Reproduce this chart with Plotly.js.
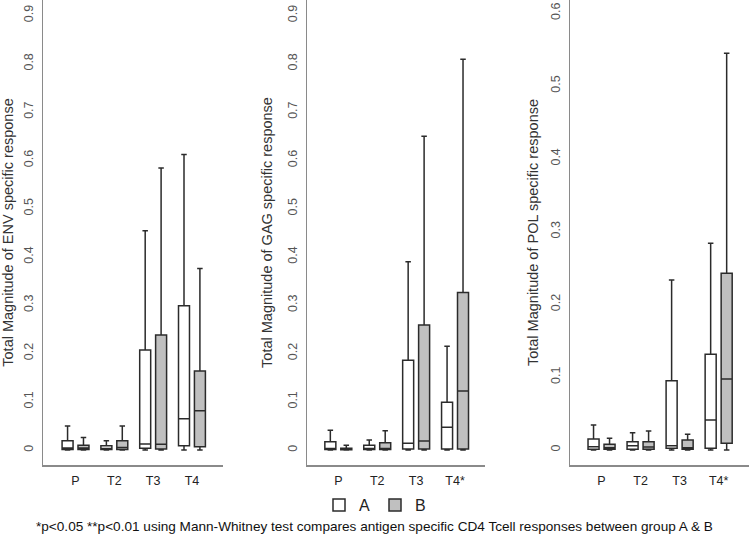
<!DOCTYPE html>
<html>
<head>
<meta charset="utf-8">
<script src="https://cdn.plot.ly/plotly-3.0.1.min.js"></script>
<style>html,body{margin:0;padding:0;background:#fff;}#chart{width:750px;height:536px;}</style>
</head>
<body>
<div id="chart"></div>
<script>
// Categories / tick labels
var catsENV = ['P', 'T2', 'T3', 'T4'];
var catsGAG = ['P', 'T2', 'T3', 'T4*'];
var catsPOL = ['P', 'T2', 'T3', 'T4*'];

// ENV – group A
var envA_low = [0, 0, 0, 0];
var envA_q1  = [0.001, 0.001, 0.0035, 0.009];
var envA_med = [0.004, 0.002, 0.0124, 0.065];
var envA_q3  = [0.019, 0.009, 0.207, 0.299];
var envA_up  = [0.050, 0.019, 0.454, 0.612];
// ENV – group B
var envB_low = [0, 0, 0, 0];
var envB_q1  = [0.001, 0.001, 0.002, 0.007];
var envB_med = [0.004, 0.005, 0.012, 0.0814];
var envB_q3  = [0.010, 0.019, 0.238, 0.1635];
var envB_up  = [0.026, 0.050, 0.584, 0.376];

// GAG – group A
var gagA_low = [0, 0, 0, 0];
var gagA_q1  = [0.001, 0.001, 0.002, 0.002];
var gagA_med = [0.003, 0.003, 0.0138, 0.047];
var gagA_q3  = [0.017, 0.010, 0.186, 0.0987];
var gagA_up  = [0.041, 0.0207, 0.390, 0.215];
// GAG – group B
var gagB_low = [0, 0, 0, 0];
var gagB_q1  = [0.0005, 0.001, 0.002, 0.002];
var gagB_med = [0.002, 0.003, 0.0186, 0.122];
var gagB_q3  = [0.0035, 0.015, 0.259, 0.3264];
var gagB_up  = [0.010, 0.040, 0.650, 0.8095];

// POL – group A
var polA_low = [0, 0, 0, 0];
var polA_q1  = [0.001, 0.001, 0.0023, 0.0023];
var polA_med = [0.0046, 0.006, 0.006, 0.0412];
var polA_q3  = [0.0151, 0.0114, 0.0952, 0.1314];
var polA_up  = [0.0343, 0.0238, 0.2335, 0.284];
// POL – group B
var polB_low = [0, 0, 0, 0];
var polB_q1  = [0.001, 0.001, 0.001, 0.0092];
var polB_med = [0.003, 0.004, 0.003, 0.0975];
var polB_q3  = [0.0078, 0.0114, 0.0137, 0.2427];
var polB_up  = [0.016, 0.026, 0.0215, 0.545];

var groupNames = ['A', 'B'];
var fillA = '#ffffff';
var fillB = '#c0c0c0';
var boxLine = '#2b2b2b';

function box(name, cats, low, q1, med, q3, up, fill, xa, ya, showLeg) {
  return {
    type: 'box', name: name, legendgroup: name, offsetgroup: name, showlegend: showLeg,
    x: cats, lowerfence: low, q1: q1, median: med, q3: q3, upperfence: up,
    fillcolor: fill, line: {color: boxLine, width: 1.5}, whiskerwidth: 0.5,
    xaxis: xa, yaxis: ya, hoverinfo: 'skip'
  };
}

var data = [
  box(groupNames[0], catsENV, envA_low, envA_q1, envA_med, envA_q3, envA_up, fillA, 'x', 'y', true),
  box(groupNames[1], catsENV, envB_low, envB_q1, envB_med, envB_q3, envB_up, fillB, 'x', 'y', true),
  box(groupNames[0], catsGAG, gagA_low, gagA_q1, gagA_med, gagA_q3, gagA_up, fillA, 'x2', 'y2', false),
  box(groupNames[1], catsGAG, gagB_low, gagB_q1, gagB_med, gagB_q3, gagB_up, fillB, 'x2', 'y2', false),
  box(groupNames[0], catsPOL, polA_low, polA_q1, polA_med, polA_q3, polA_up, fillA, 'x3', 'y3', false),
  box(groupNames[1], catsPOL, polB_low, polB_q1, polB_med, polB_q3, polB_up, fillB, 'x3', 'y3', false)
];

var fontFam = '"Liberation Sans", Arial, sans-serif';
function xax(domain, range, anchor) {
  return {
    domain: domain, range: range, anchor: anchor, type: 'category',
    showline: true, linecolor: '#8a8a8a', linewidth: 1.5, ticks: '', showgrid: false, zeroline: false,
    ticklabelstandoff: 3,
    tickfont: {family: fontFam, size: 12.5, color: '#222'}, fixedrange: true
  };
}
function yax(range, anchor, title, standoff) {
  return {
    range: range, anchor: anchor, domain: [0, 1], dtick: 0.1, tick0: 0,
    showline: true, linecolor: '#8a8a8a', linewidth: 1.5, ticks: '', showgrid: false, zeroline: false,
    tickangle: -90, ticklabelstandoff: 4,
    tickfont: {family: fontFam, size: 12.5, color: '#555'},
    title: {text: title, standoff: standoff, font: {family: fontFam, size: 14.5, color: '#333'}},
    automargin: false, fixedrange: true
  };
}

var layout = {
  width: 750, height: 536,
  margin: {l: 0, r: 0, t: 0, b: 71},
  paper_bgcolor: '#fff', plot_bgcolor: '#fff',
  boxmode: 'group', boxgap: 0.18, boxgroupgap: 0.31,
  xaxis:  xax([43/750, 223/750], [-0.838, 3.8], 'y'),
  xaxis2: xax([307/750, 485/750], [-0.805, 3.77], 'y2'),
  xaxis3: xax([570/750, 749/750], [-0.808, 3.777], 'y3'),
  yaxis:  yax([-0.031, 0.932], 'x', 'Total Magnitude of ENV specific response', 9),
  yaxis2: yax([-0.031, 0.932], 'x2', 'Total Magnitude of GAG specific response', 9),
  yaxis3: yax([-0.0206, 0.618], 'x3', 'Total Magnitude of POL specific response', 6),
  showlegend: true,
  legend: {
    orientation: 'h', x: 0.5, xanchor: 'center', y: -0.086, yanchor: 'middle',
    font: {family: fontFam, size: 16, color: '#222'}, bgcolor: 'rgba(0,0,0,0)'
  },
  annotations: [{
    text: '*p<0.05 **p<0.01 using Mann-Whitney test compares antigen specific CD4 Tcell responses between group A & B',
    xref: 'paper', yref: 'paper', x: 374/750, y: -0.133, xanchor: 'center', yanchor: 'middle',
    showarrow: false, font: {family: fontFam, size: 13.6, color: '#111'}
  }]
};

Plotly.newPlot('chart', data, layout, {staticPlot: true, displayModeBar: false});
</script>
</body>
</html>
